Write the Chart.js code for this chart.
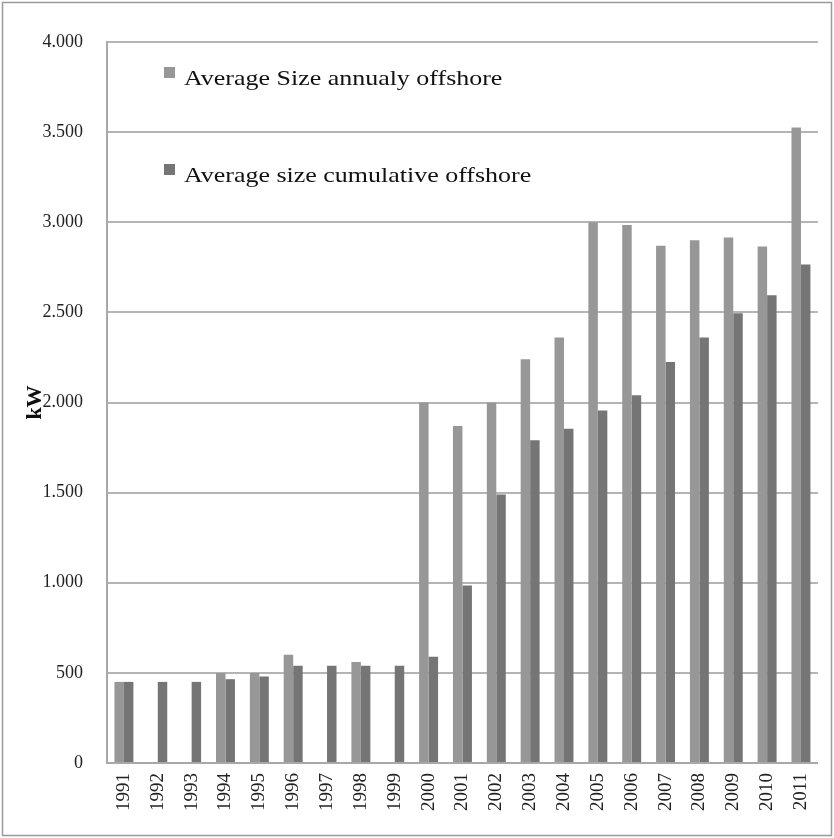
<!DOCTYPE html>
<html>
<head>
<meta charset="utf-8">
<script src="https://cdn.jsdelivr.net/npm/chart.js@4.4.0/dist/chart.umd.min.js"></script>
<style>
  html, body { margin: 0; padding: 0; background: #fff; }
  #wrap { width: 834px; height: 838px; }
</style>
</head>
<body>
<div id="wrap"><canvas id="chart" width="834" height="838"></canvas></div>
<script>
// years on the x axis
let years = ['1991', '1992', '1993', '1994', '1995', '1996', '1997', '1998', '1999', '2000',
	'2001', '2002', '2003', '2004', '2005', '2006', '2007', '2008', '2009', '2010', '2011'];

// average turbine size in kW
let annualSize = [450, 0, 0, 500, 500, 600, 0, 560, 0, 2000,
	1870, 2000, 2240, 2360, 3000, 2985, 2870, 2900, 2915, 2865, 3525];
let cumulativeSize = [450, 450, 450, 465, 480, 540, 540, 540, 540, 590,
	985, 1490, 1790, 1855, 1955, 2040, 2225, 2360, 2495, 2595, 2765];

let seriesNames = ['Average Size annualy offshore', 'Average size cumulative offshore'];
let seriesColors = ['#979797', '#757575'];

const SERIF = '"Liberation Serif", "Times New Roman", serif';

// white page + thin outer frame
const framePlugin = {
	id: 'frame',
	beforeDraw(chart) {
		const ctx = chart.ctx;
		ctx.save();
		ctx.fillStyle = '#fff';
		ctx.fillRect(0, 0, chart.width, chart.height);
		ctx.restore();
	},
	afterDraw(chart) {
		const ctx = chart.ctx;
		ctx.save();
		ctx.strokeStyle = '#9a9a9a';
		ctx.lineWidth = 1.5;
		ctx.strokeRect(2.5, 2.5, chart.width - 5, chart.height - 5);
		ctx.restore();
	}
};

// legend sits inside the plot, stacked
const innerLegend = {
	id: 'innerLegend',
	afterDatasetsDraw(chart) {
		const ctx = chart.ctx;
		const area = chart.chartArea;
		ctx.save();
		ctx.font = '22px ' + SERIF;
		ctx.textBaseline = 'alphabetic';
		chart.data.datasets.forEach((ds, i) => {
			let x = area.left + 57;
			let y = area.top + 25 + i * 97;
			ctx.fillStyle = ds.backgroundColor;
			ctx.fillRect(x, y, 11, 11);
			ctx.fillStyle = '#111';
			ctx.save();
			ctx.translate(x + 20, y + 18);
			ctx.scale(1.18, 1);
			ctx.fillText(ds.label, 0, 0);
			ctx.restore();
		});
		ctx.restore();
	}
};

const ctx = document.getElementById('chart').getContext('2d');
const myChart = new Chart(ctx, {
	type: 'bar',
	data: {
		labels: years,
		datasets: [{
			label: seriesNames[0],
			data: annualSize,
			backgroundColor: seriesColors[0],
			borderWidth: 0
		}, {
			label: seriesNames[1],
			data: cumulativeSize,
			backgroundColor: seriesColors[1],
			borderWidth: 0
		}]
	},
	options: {
		responsive: false,
		animation: false,
		devicePixelRatio: 1,
		layout: {
			padding: { top: 42, right: 10, left: 0, bottom: 0 }
		},
		plugins: {
			legend: { display: false },
			tooltip: { enabled: false }
		},
		datasets: {
			bar: {
				categoryPercentage: 0.56,
				barPercentage: 1
			}
		},
		scales: {
			x: {
				grid: { display: false, drawTicks: false },
				border: { display: true, color: '#a8a8a8', width: 2 },
				ticks: {
					minRotation: 90,
					maxRotation: 90,
					padding: 10,
					color: '#222',
					font: { family: SERIF, size: 19 }
				},
				afterFit: (scale) => { scale.height = 75; }
			},
			y: {
				min: 0,
				max: 4000,
				grid: { color: '#b4b4b4', lineWidth: 2, drawTicks: false },
				border: { display: true, color: '#a8a8a8', width: 2 },
				ticks: {
					stepSize: 500,
					padding: 24,
					color: '#222',
					font: { family: SERIF, size: 18 },
					callback: (value) => value.toLocaleString('de-DE')
				},
				title: {
					display: true,
					text: 'kW',
					color: '#111',
					font: { family: SERIF, size: 22, weight: 'bold' },
					padding: { top: 22, bottom: 0 }
				},
				afterFit: (scale) => { scale.width = 107; }
			}
		}
	},
	plugins: [framePlugin, innerLegend]
});
</script>
</body>
</html>
